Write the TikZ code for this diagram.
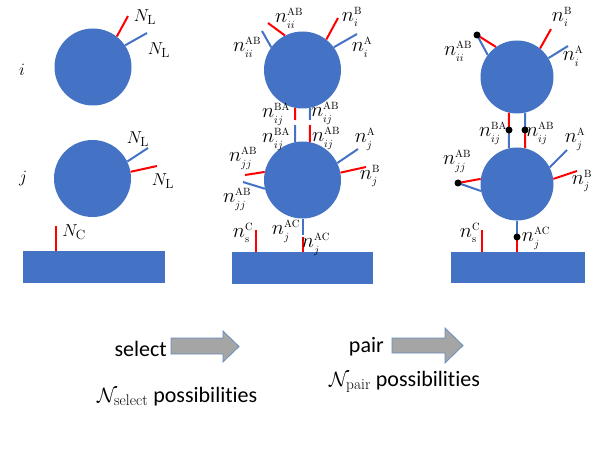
\documentclass[tikz,border=0pt]{standalone}
\usepackage{fontspec}
\usepackage{amsmath,amssymb}
\usepackage{tikz}
\usetikzlibrary{positioning,calc}
\newfontfamily\calfont[Ligatures=NoCommon]{Carlito}
\DeclareMathSizes{20}{20}{10.5}{8}
\def\nlab#1#2{n^{\mathrm{#1}}_{#2}}
\definecolor{ballblue}{HTML}{4472C4}
\definecolor{arrgray}{HTML}{A5A5A5}
\definecolor{arredge}{HTML}{6A8CC0}
\tikzset{
  ball/.style    = {circle, fill=ballblue, minimum size=77pt, inner sep=0pt},
  slab/.style    = {rectangle, fill=ballblue, inner sep=0pt},
  rstk/.style    = {draw=red, line width=2pt},
  bstk/.style    = {draw=ballblue, line width=2pt},
  pin/.style     = {circle, fill=black, minimum size=7pt, inner sep=0pt},
  lbl/.style     = {inner sep=0pt, font=\fontsize{20}{22}\selectfont},
  biglbl/.style  = {inner sep=0pt, font=\fontsize{19}{20}\selectfont},
  arw/.style     = {fill=arrgray, draw=arredge, line width=0.8pt},
  txt/.style     = {inner sep=0pt, font=\fontsize{22}{24}\selectfont\calfont},
}

\begin{document}
\begin{tikzpicture}[x=1pt, y=-1pt]
  \useasboundingbox (0,0) rectangle (599,449);

  % free molecules
  \node[ball] (i1) at (93,67) {};
  \node[ball] (j1) at (92.5,178.5) {};
  \node[slab, minimum width=142pt, minimum height=32pt] (s1) at (94,267) {};
  \node[biglbl] (ni) at (22,70) {$i$};
  \node[biglbl] (nj) at (23,179) {$j$};
  \coordinate (i1r) at (128,16);
  \coordinate (i1b) at (147,33);
  \coordinate (j1b) at (148,148);
  \coordinate (j1r) at (157,166);
  \coordinate (s1c) at (56,226);
  \draw[rstk] (i1.52) -- (i1r);
  \draw[bstk] (i1.34) -- (i1b);
  \draw[bstk] (j1.26) -- (j1b);
  \draw[rstk] (j1.10) -- (j1r);
  \draw[rstk] (s1c) -- (s1c |- s1.north);
  \node[biglbl] (li1r) at (145,17) {$N_{\mathrm{L}}$};
  \node[biglbl] (li1b) at (159,50) {$N_{\mathrm{L}}$};
  \node[biglbl] (lj1b) at (138,139) {$N_{\mathrm{L}}$};
  \node[biglbl] (lj1r) at (163,181) {$N_{\mathrm{L}}$};
  \node[biglbl] (ls1) at (74,232) {$N_{\mathrm{C}}$};

  % selected sites
  \node[ball] (i2) at (302.5,70) {};
  \node[ball] (j2) at (302.5,180) {};
  \node[slab, minimum width=141pt, minimum height=32pt] (s2) at (302.5,268) {};
  \coordinate (i2a) at (268,23);
  \coordinate (i2b) at (262,31);
  \coordinate (i2c) at (338,18);
  \coordinate (i2d) at (357,34);
  \coordinate (g2a) at (295,120);
  \coordinate (g2b) at (310,120);
  \coordinate (g2c) at (295,125);
  \coordinate (g2d) at (310,125);
  \coordinate (j2a) at (358,149);
  \coordinate (j2b) at (366,167);
  \coordinate (j2c) at (245,175);
  \coordinate (j2d) at (243,182);
  \coordinate (j2e) at (302.5,235);
  \coordinate (j2f) at (302.5,237);
  \coordinate (s2c) at (256,230);
  \draw[rstk] (i2.117) -- (i2a);
  \draw[bstk] (i2.144) -- (i2b);
  \draw[rstk] (i2.52) -- (i2c);
  \draw[bstk] (i2.36) -- (i2d);
  \draw[rstk] (i2.259) -- (g2a);
  \draw[bstk] (i2.281) -- (g2b);
  \draw[bstk] (g2c) -- (j2.101);
  \draw[rstk] (g2d) -- (j2.79);
  \draw[bstk] (j2.26) -- (j2a);
  \draw[rstk] (j2.11) -- (j2b);
  \draw[rstk] (j2.168) -- (j2c);
  \draw[bstk] (j2.193) -- (j2d);
  \draw[bstk] (j2.south) -- (j2e);
  \draw[rstk] (j2f) -- (j2f |- s2.north);
  \draw[rstk] (s2c) -- (s2c |- s2.north);
  \node[lbl] (l2a) at (289,18) {$\nlab{AB}{ii}$};
  \node[lbl] (l2b) at (247,47) {$\nlab{AB}{ii}$};
  \node[lbl] (l2c) at (352,17) {$\nlab{B}{i}$};
  \node[lbl] (l2d) at (362,47) {$\nlab{A}{i}$};
  \node[lbl] (l2e) at (276,114) {$\nlab{BA}{ij}$};
  \node[lbl] (l2f) at (325,113) {$\nlab{AB}{ij}$};
  \node[lbl] (l2g) at (276,139) {$\nlab{BA}{ij}$};
  \node[lbl] (l2h) at (326,138) {$\nlab{AB}{ij}$};
  \node[lbl] (l2i) at (365,139) {$\nlab{A}{j}$};
  \node[lbl] (l2j) at (243,158) {$\nlab{AB}{jj}$};
  \node[lbl] (l2k) at (370,176) {$\nlab{B}{j}$};
  \node[lbl] (l2l) at (237,199) {$\nlab{AB}{jj}$};
  \node[lbl] (l2m) at (243,233) {$\nlab{C}{\mathrm{s}}$};
  \node[lbl] (l2n) at (286,231) {$\nlab{AC}{j}$};
  \node[lbl] (l2o) at (316,244) {$\nlab{AC}{j}$};

  % paired sites
  \node[ball, minimum size=73pt] (i3) at (517,77) {};
  \node[ball, minimum size=73pt] (j3) at (517,184) {};
  \node[slab, minimum width=134pt, minimum height=31pt] (s3) at (518,267.5) {};
  \coordinate (d1) at (477,35);
  \coordinate (d2) at (509,130);
  \coordinate (d3) at (525,130);
  \coordinate (d4) at (458,183);
  \coordinate (d5) at (517,237);
  \coordinate (i3c) at (551,29);
  \coordinate (i3d) at (568,46);
  \coordinate (j3a) at (567,150);
  \coordinate (j3b) at (577,171);
  \coordinate (s3c) at (482,230);
  \draw[rstk] (i3.125) -- (d1);
  \draw[bstk] (i3.143) -- (d1);
  \draw[rstk] (i3.51) -- (i3c);
  \draw[bstk] (i3.31) -- (i3d);
  \draw[rstk] (i3.257) -- (d2);
  \draw[bstk] (d2) -- (j3.103);
  \draw[bstk] (i3.283) -- (d3);
  \draw[rstk] (d3) -- (j3.77);
  \draw[bstk] (j3.27) -- (j3a);
  \draw[rstk] (j3.8) -- (j3b);
  \draw[rstk] (j3.172) -- (d4);
  \draw[bstk] (j3.191) -- (d4);
  \draw[bstk] (j3.south) -- (d5);
  \draw[rstk] (d5) -- (d5 |- s3.north);
  \draw[rstk] (s3c) -- (s3c |- s3.north);
  \node[pin] (p1) at (d1) {};
  \node[pin] (p2) at (d2) {};
  \node[pin] (p3) at (d3) {};
  \node[pin] (p4) at (d4) {};
  \node[pin] (p5) at (d5) {};
  \node[lbl] (l3a) at (458,51) {$\nlab{AB}{ii}$};
  \node[lbl] (l3b) at (562,17) {$\nlab{B}{i}$};
  \node[lbl] (l3c) at (573,56) {$\nlab{A}{i}$};
  \node[lbl] (l3d) at (493,133) {$\nlab{BA}{ij}$};
  \node[lbl] (l3e) at (540,133) {$\nlab{AB}{ij}$};
  \node[lbl] (l3f) at (575,139) {$\nlab{A}{j}$};
  \node[lbl] (l3g) at (457,161) {$\nlab{AB}{jj}$};
  \node[lbl] (l3h) at (582,181) {$\nlab{B}{j}$};
  \node[lbl] (l3i) at (470,233) {$\nlab{C}{\mathrm{s}}$};
  \node[lbl] (l3j) at (536,238) {$\nlab{AC}{j}$};

  % steps
  \draw[arw] (171,338) -- (223,338) -- (223,331) -- (239,346.5) -- (223,362) -- (223,354) -- (171,354) -- cycle;
  \draw[arw] (392,338) -- (445,338) -- (445,328) -- (463,345.5) -- (445,363) -- (445,353) -- (392,353) -- cycle;
  \node[txt, anchor=base east] (sel) at (167,356) {select};
  \node[txt, anchor=base east] (pr) at (384,352) {pair};
  \node[txt, anchor=base west] (nsel) at (97,402) {$\mathcal{N}_{\mathrm{select}}$ possibilities};
  \node[txt, anchor=base west] (npr) at (329,386) {$\mathcal{N}_{\mathrm{pair}}$ possibilities};
\end{tikzpicture}
\end{document}
